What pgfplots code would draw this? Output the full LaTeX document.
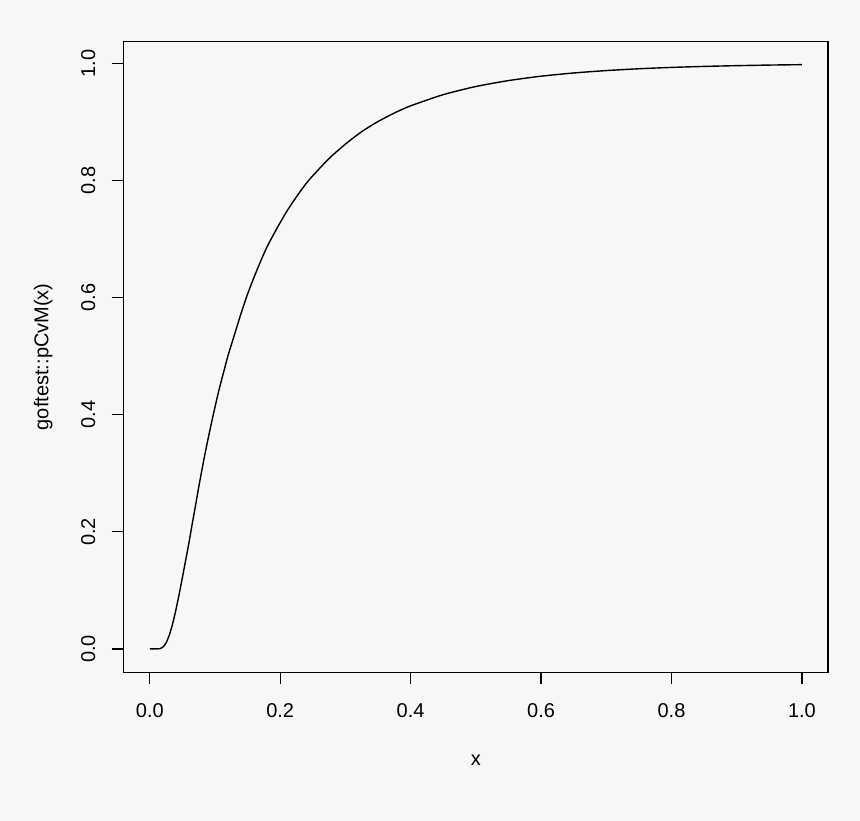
\documentclass[border=0pt]{standalone}
\usepackage{fontspec}
\setmainfont{Liberation Sans}
\usepackage{pgfplots}
\pgfplotsset{compat=1.18}
\definecolor{bg}{RGB}{247,247,247}
\pgfplotstableread{
x y
0.000 0.0000
0.010 0.00001
0.015 0.0004
0.020 0.0030
0.025 0.0104
0.030 0.0238
0.035 0.0428
0.040 0.0664
0.045 0.0932
0.050 0.1219
0.055 0.1514
0.060 0.1809
0.065 0.2130
0.070 0.2440
0.075 0.2760
0.080 0.3060
0.085 0.3350
0.090 0.3620
0.095 0.3880
0.100 0.4130
0.105 0.4370
0.110 0.4590
0.115 0.4800
0.120 0.5010
0.130 0.5370
0.140 0.5730
0.150 0.6060
0.160 0.6350
0.170 0.6620
0.180 0.6870
0.190 0.7080
0.200 0.7280
0.210 0.7470
0.220 0.7640
0.230 0.7800
0.240 0.7950
0.250 0.8080
0.275 0.8375
0.300 0.8620
0.325 0.8832
0.350 0.9005
0.375 0.9150
0.400 0.9273
0.450 0.9464
0.500 0.9603
0.550 0.9704
0.600 0.9779
0.650 0.9834
0.700 0.9875
0.750 0.9906
0.800 0.9929
0.850 0.9946
0.900 0.9959
0.950 0.9969
1.000 0.9976
}\cvmtable
\begin{document}
\fontsize{20}{24}\selectfont
\begin{tikzpicture}[x=1pt,y=1pt]
\fill[bg] (0,0) rectangle (860,821);
\path[use as bounding box] (0,0) rectangle (860,821);
\begin{axis}[
  at={(123.7pt,148.7pt)}, anchor=south west,
  scale only axis, width=704.3pt, height=631pt,
  xmin=-0.04, xmax=1.04, ymin=-0.0399, ymax=1.0375,
  axis background/.style={fill=bg},
  axis line style={line width=1.3pt, black},
  tick pos=left, tick align=outside, major tick length=12pt,
  every tick/.style={line width=1.3pt, black},
  xtick={0,0.2,0.4,0.6,0.8,1}, ytick={0,0.2,0.4,0.6,0.8,1},
  xticklabels={0.0,0.2,0.4,0.6,0.8,1.0},
  yticklabels={0.0,0.2,0.4,0.6,0.8,1.0},
  xticklabel style={anchor=base, yshift=-33pt},
  yticklabel style={xshift=-16.7pt, rotate=90, anchor=base},
  xlabel={x}, ylabel={goftest::pCvM(x)},
  every axis x label/.style={at={(axis description cs:0.5,0)}, anchor=base, yshift=-93.7pt},
  every axis y label/.style={at={(axis description cs:0,0.5)}, xshift=-75.4pt, rotate=90, anchor=base},
]
\addplot[black, line width=1.4pt, mark=none, smooth, tension=0.4] table[x=x,y=y] {\cvmtable};
\end{axis}
\end{tikzpicture}
\end{document}
